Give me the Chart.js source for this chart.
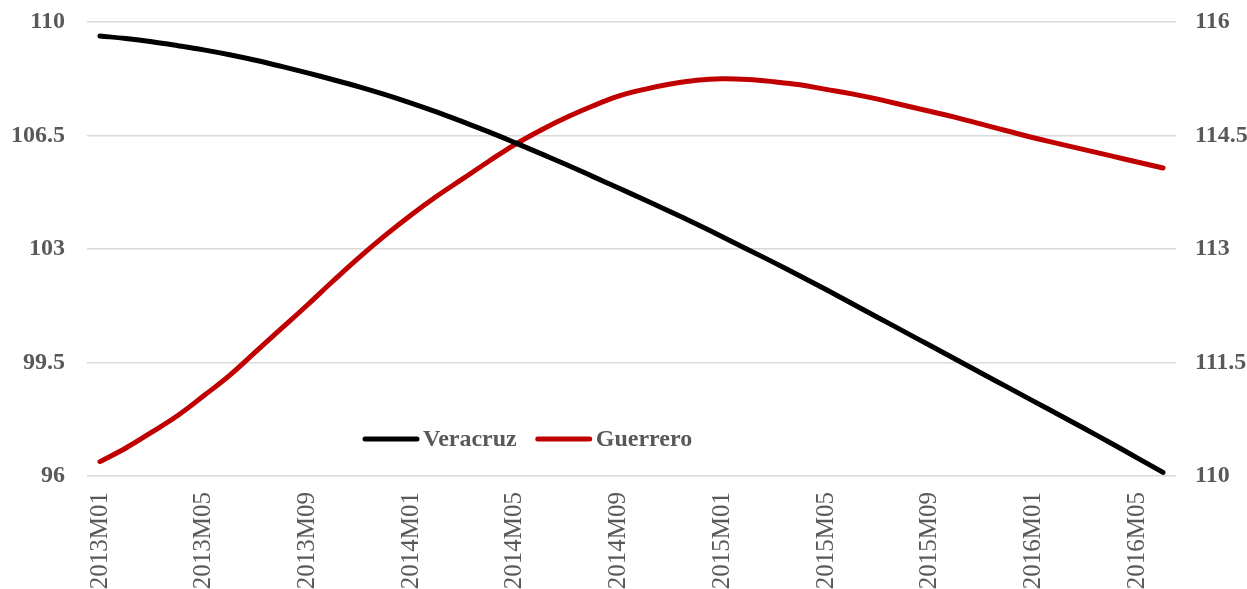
<!DOCTYPE html>
<html>
<head>
<meta charset="utf-8">
<script src="https://cdn.jsdelivr.net/npm/chart.js@4.4.1/dist/chart.umd.min.js"></script>
<style>
  html, body { margin: 0; padding: 0; background: #ffffff; }
  #wrap { width: 1247px; height: 589px; }
</style>
</head>
<body>
<div id="wrap"><canvas id="chart"></canvas></div>
<script>
const months = [];
for (let y = 2013; y <= 2016; y++) {
    for (let m = 1; m <= 12; m++) {
        if (y === 2016 && m > 6) break;
        months.push(y + 'M' + String(m).padStart(2, '0'));
    }
}

const veracruz = [109.57, 109.49, 109.39, 109.27, 109.14, 108.99, 108.82, 108.63, 108.43, 108.22,
    108.00, 107.76, 107.50, 107.22, 106.92, 106.61, 106.28, 105.94, 105.60, 105.24,
    104.88, 104.52, 104.15, 103.77, 103.38, 102.98, 102.58, 102.17, 101.75, 101.32,
    100.89, 100.46, 100.03, 99.60, 99.17, 98.74, 98.31, 97.88, 97.45, 97.01,
    96.56, 96.11];

const guerrero = [110.19, 110.37, 110.58, 110.80, 111.06, 111.33, 111.64, 111.95, 112.26, 112.58,
    112.89, 113.18, 113.45, 113.70, 113.93, 114.16, 114.38, 114.57, 114.74, 114.89,
    115.02, 115.11, 115.18, 115.23, 115.25, 115.24, 115.21, 115.17, 115.11, 115.05,
    114.98, 114.90, 114.82, 114.74, 114.65, 114.56, 114.47, 114.39, 114.31, 114.23,
    114.15, 114.07];

const leftTicks = [96, 99.5, 103, 106.5, 110];
const rightTicks = [110, 111.5, 113, 114.5, 116];

const TEXT = '#595959';
const GRID = '#d9d9d9';
const SERIF = '"Liberation Serif", "Times New Roman", serif';

// legend drawn inside the plot, like the Excel original
const insideLegend = {
    id: 'insideLegend',
    afterDraw(chart) {
        const { ctx, chartArea } = chart;
        let x = chartArea.left + 276;
        const y = chartArea.bottom - 37;
        ctx.save();
        ctx.font = 'bold 24px ' + SERIF;
        ctx.textBaseline = 'middle';
        chart.data.datasets.forEach(ds => {
            ctx.strokeStyle = ds.borderColor;
            ctx.lineWidth = 5;
            ctx.lineCap = 'round';
            ctx.beginPath();
            ctx.moveTo(x + 2, y);
            ctx.lineTo(x + 54, y);
            ctx.stroke();
            x += 60;
            ctx.fillStyle = TEXT;
            ctx.fillText(ds.label, x, y + 1);
            x += ctx.measureText(ds.label).width + 19;
        });
        ctx.restore();
    }
};

function fixWidth(w) {
    return s => {
        s.width = w;
        s.paddingTop = 0;
        s.paddingBottom = 0;
    };
}

new Chart(document.getElementById('chart'), {
    type: 'line',
    data: {
        labels: months,
        datasets: [{
            label: 'Veracruz',
            data: veracruz,
            yAxisID: 'y',
            borderColor: '#000000',
            borderWidth: 5,
            borderCapStyle: 'round',
            pointRadius: 0,
            tension: 0.4
        }, {
            label: 'Guerrero',
            data: guerrero,
            yAxisID: 'y2',
            borderColor: '#c00000',
            borderWidth: 5,
            borderCapStyle: 'round',
            pointRadius: 0,
            tension: 0.4
        }]
    },
    options: {
        responsive: true,
        maintainAspectRatio: false,
        animation: false,
        layout: { padding: { top: 22, left: 0, right: 0, bottom: 0 } },
        plugins: {
            legend: { display: false },
            tooltip: { enabled: false }
        },
        scales: {
            x: {
                offset: true,
                grid: { display: false, drawTicks: false },
                border: { display: false },
                afterFit: s => { s.height = 113; },
                ticks: {
                    autoSkip: false,
                    minRotation: 90,
                    maxRotation: 90,
                    padding: 16,
                    color: TEXT,
                    font: { family: SERIF, size: 25 },
                    callback: (v, i) => (i % 4 === 0 ? months[i] : null)
                }
            },
            y: {
                position: 'left',
                min: leftTicks[0],
                max: leftTicks[leftTicks.length - 1],
                afterBuildTicks: s => { s.ticks = leftTicks.map(v => ({ value: v })); },
                afterFit: fixWidth(87),
                grid: { color: GRID, lineWidth: 1.5, drawTicks: false },
                border: { display: false },
                ticks: {
                    padding: 22,
                    color: TEXT,
                    font: { family: SERIF, size: 24, weight: 'bold' }
                }
            },
            y2: {
                position: 'right',
                min: rightTicks[0],
                max: rightTicks[rightTicks.length - 1],
                afterBuildTicks: s => { s.ticks = rightTicks.map(v => ({ value: v })); },
                afterFit: fixWidth(71),
                grid: { display: false, drawTicks: false },
                border: { display: false },
                ticks: {
                    padding: 19,
                    color: TEXT,
                    font: { family: SERIF, size: 24, weight: 'bold' }
                }
            }
        }
    },
    plugins: [insideLegend]
});
</script>
</body>
</html>
